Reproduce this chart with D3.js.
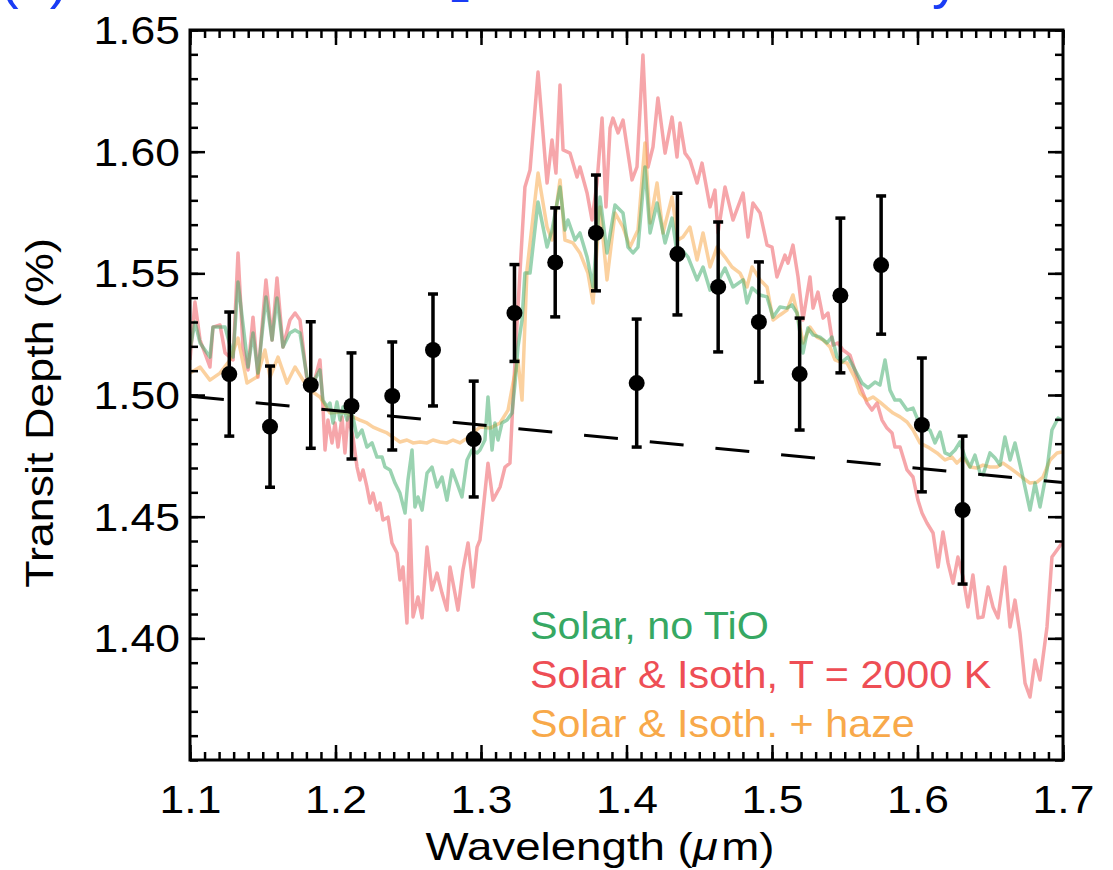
<!DOCTYPE html>
<html><head><meta charset="utf-8">
<script src="https://cdn.jsdelivr.net/npm/d3@7"></script>
<style>body{margin:0;background:#fff} svg{display:block}</style>
</head><body>
<svg id="chart" width="1113" height="870"></svg>
<script>
// ---------------- data ----------------
const xTickValues = [1.1, 1.2, 1.3, 1.4, 1.5, 1.6, 1.7];
const xTickLabels = ["1.1", "1.2", "1.3", "1.4", "1.5", "1.6", "1.7"];
const yTickValues = [1.40, 1.45, 1.50, 1.55, 1.60, 1.65];
const yTickLabels = ["1.40", "1.45", "1.50", "1.55", "1.60", "1.65"];

const pointWavelength = [1.127, 1.155, 1.183, 1.211, 1.239, 1.267, 1.295, 1.323, 1.351, 1.379, 1.407, 1.435, 1.463, 1.491, 1.519, 1.547, 1.575, 1.603, 1.631];
const pointDepth = [1.5086, 1.4870, 1.5041, 1.4955, 1.4996, 1.5185, 1.4819, 1.5337, 1.5545, 1.5666, 1.5049, 1.5579, 1.5444, 1.5300, 1.5086, 1.5409, 1.5534, 1.4877, 1.4527];
const pointError = [0.0255, 0.0249, 0.0260, 0.0218, 0.0222, 0.0230, 0.0238, 0.0199, 0.0224, 0.0238, 0.0263, 0.0250, 0.0267, 0.0247, 0.0230, 0.0318, 0.0284, 0.0275, 0.0304];

const flatLine = [[1.1, 1.4995], [1.7, 1.4640]];

const legendLabels = ["Solar, no TiO", "Solar & Isoth, T = 2000 K", "Solar & Isoth. + haze"];

const modelIsoth = [
[1.100,1.5144],[1.1034,1.5382],[1.1069,1.5226],[1.1137,1.5115],[1.1158,1.5279],[1.1206,1.5288],[1.1241,1.5173],[1.1296,1.5144],[1.1330,1.5584],[1.1364,1.5197],[1.1399,1.5103],[1.1433,1.5320],[1.1467,1.5074],[1.1522,1.5473],[1.1564,1.5226],[1.1598,1.5481],[1.1639,1.5197],[1.1687,1.5308],[1.1722,1.5337],[1.1756,1.5308],[1.1804,1.5061],[1.1845,1.5033],[1.1893,1.5144],[1.1914,1.4951],
[1.1928,1.4774],[1.1948,1.4897],[1.1976,1.4803],[1.1997,1.4885],[1.2017,1.4786],[1.2045,1.4910],[1.2065,1.4762],[1.2086,1.4910],[1.2120,1.4827],[1.2148,1.4704],[1.2168,1.4651],[1.2189,1.4692],[1.2216,1.4622],[1.2237,1.4556],[1.2258,1.4597],[1.2285,1.4527],[1.2306,1.4556],[1.2326,1.4486],[1.2361,1.4498],[1.2388,1.4392],[1.2423,1.4351],[1.2443,1.4240],[1.2464,1.4293],[1.2491,1.4063],[1.2512,1.4486],[1.2533,1.4088],[1.2567,1.4170],[1.2595,1.4084],[1.2629,1.4375],[1.2663,1.4199],[1.2698,1.4268],[1.2732,1.4186],[1.2766,1.4116],[1.2787,1.4293],[1.2821,1.4186],[1.2842,1.4116],[1.2876,1.4281],[1.2911,1.4392],[1.2945,1.4211],[1.2973,1.4375],[1.2993,1.4404],
[1.3048,1.4720],[1.3082,1.4568],[1.3131,1.4622],[1.3165,1.4704],[1.3199,1.4720],[1.3220,1.4979],[1.3247,1.5288],[1.3302,1.5855],[1.3337,1.5925],[1.3392,1.6327],[1.3454,1.5871],[1.3488,1.6048],[1.3515,1.5912],[1.3543,1.6274],[1.3564,1.6007],[1.3612,1.5994],[1.3660,1.5896],[1.3680,1.5937],[1.3729,1.5830],[1.3763,1.5719],[1.3797,1.5871],[1.3832,1.6138],[1.3859,1.5773],[1.3887,1.6097],[1.3907,1.6138],[1.3942,1.6077],[1.3976,1.6130],[1.4038,1.5884],[1.4072,1.5937],[1.4113,1.6397],[1.4148,1.5937],[1.4182,1.6019],[1.4216,1.6221],[1.4265,1.5994],[1.4313,1.6142],[1.4347,1.5978],[1.4368,1.6118],[1.4402,1.5994],[1.4436,1.5966],[1.4485,1.5871],[1.4519,1.5953],[1.4574,1.5773],[1.4608,1.5842],[1.4629,1.5666],[1.4677,1.5855],[1.4732,1.5719],[1.4801,1.5830],[1.4835,1.5649],[1.4869,1.5789],[1.4918,1.5748],
[1.4966,1.5616],[1.5000,1.5608],[1.5034,1.5485],[1.5089,1.5575],[1.5110,1.5542],[1.5144,1.5616],[1.5179,1.5485],[1.5213,1.5308],[1.5261,1.5485],[1.5282,1.5357],[1.5316,1.5423],[1.5351,1.5316],[1.5385,1.5337],[1.5419,1.5205],[1.5454,1.5214],[1.5488,1.5185],[1.5536,1.5164],[1.5591,1.5061],[1.5653,1.4967],[1.5687,1.4938],[1.5722,1.4967],[1.5756,1.4897],[1.5790,1.4864],[1.5825,1.4844],[1.5845,1.4786],[1.5880,1.4786],[1.5928,1.4692],[1.5969,1.4663],[1.6003,1.4568],[1.6031,1.4515],[1.6065,1.4474],[1.6107,1.4433],[1.6141,1.4293],[1.6175,1.4437],[1.6210,1.4310],[1.6244,1.4227],[1.6278,1.4334],[1.6313,1.4252],[1.6347,1.4129],[1.6381,1.4260],[1.6416,1.4084],[1.6450,1.4088],[1.6485,1.4211],[1.6519,1.4129],[1.6553,1.4084],[1.6601,1.4293],[1.6636,1.4047],[1.6670,1.4157],[1.6704,1.4022],[1.6739,1.3816],[1.6773,1.3759],[1.6808,1.3911],[1.6842,1.3829],[1.6890,1.4047],[1.6924,1.4334],[1.6959,1.4363],[1.6993,1.4392]
];

const modelNoTiO = [
[1.100,1.5185],[1.1034,1.5300],[1.1069,1.5214],[1.1137,1.5156],[1.1158,1.5279],[1.1241,1.5279],[1.1296,1.5156],[1.1330,1.5464],[1.1399,1.5115],[1.1433,1.5255],[1.1467,1.5090],[1.1522,1.5403],[1.1564,1.5226],[1.1598,1.5399],[1.1639,1.5197],[1.1687,1.5255],[1.1722,1.5267],[1.1756,1.5255],[1.1804,1.5074],[1.1845,1.5049],[1.1893,1.5103],[1.1914,1.4979],[1.1942,1.4951],[1.1962,1.4967],[1.1983,1.4885],[1.2010,1.4971],[1.2031,1.4897],[1.2052,1.4951],[1.2079,1.4897],[1.2100,1.4938],[1.2120,1.4910],[1.2148,1.4827],[1.2182,1.4856],[1.2216,1.4786],[1.2251,1.4803],[1.2285,1.4745],[1.2320,1.4745],[1.2340,1.4704],[1.2375,1.4692],[1.2409,1.4638],[1.2443,1.4597],[1.2478,1.4515],[1.2498,1.4651],[1.2526,1.4774],[1.2546,1.4540],[1.2567,1.4581],[1.2595,1.4527],[1.2629,1.4679],[1.2663,1.4704],[1.2698,1.4622],[1.2732,1.4663],[1.2766,1.4568],[1.2801,1.4692],[1.2835,1.4638],[1.2869,1.4581],[1.2904,1.4733],[1.2938,1.4774],[1.2973,1.4762],[1.2993,1.4774],
[1.3027,1.4815],[1.3048,1.4992],[1.3076,1.4774],[1.3096,1.4885],[1.3117,1.4815],[1.3144,1.4885],[1.3179,1.4897],[1.3213,1.4926],[1.3234,1.5049],[1.3254,1.5197],[1.3282,1.5308],[1.3302,1.5501],[1.3337,1.5501],[1.3392,1.5793],[1.3454,1.5608],[1.3488,1.5678],[1.3543,1.5855],[1.3577,1.5678],[1.3598,1.5719],[1.3646,1.5637],[1.3680,1.5666],[1.3729,1.5567],[1.3770,1.5444],[1.3818,1.5814],[1.3866,1.5584],[1.3921,1.5781],[1.3976,1.5748],[1.4010,1.5608],[1.4045,1.5584],[1.4079,1.5608],[1.4127,1.5937],[1.4162,1.5666],[1.4210,1.5789],[1.4265,1.5625],[1.4313,1.5727],[1.4347,1.5584],[1.4381,1.5596],[1.4423,1.5567],[1.4485,1.5473],[1.4526,1.5526],[1.4574,1.5431],[1.4622,1.5460],[1.4677,1.5522],[1.4732,1.5444],[1.4801,1.5473],[1.4828,1.5378],[1.4863,1.5440],[1.4918,1.5411],
[1.4966,1.5403],[1.5007,1.5320],[1.5055,1.5362],[1.5103,1.5357],[1.5137,1.5370],[1.5172,1.5337],[1.5213,1.5173],[1.5247,1.5275],[1.5282,1.5247],[1.5330,1.5238],[1.5378,1.5214],[1.5412,1.5238],[1.5447,1.5156],[1.5481,1.5136],[1.5522,1.5156],[1.5570,1.5103],[1.5619,1.5049],[1.5660,1.5029],[1.5708,1.5053],[1.5742,1.5041],[1.5777,1.5144],[1.5811,1.5020],[1.5845,1.4979],[1.5880,1.4979],[1.5928,1.4938],[1.5969,1.4946],[1.6003,1.4897],[1.6052,1.4864],[1.6086,1.4856],[1.6120,1.4803],[1.6155,1.4848],[1.6189,1.4762],[1.6223,1.4753],[1.6258,1.4774],[1.6292,1.4807],[1.6326,1.4745],[1.6361,1.4704],[1.6395,1.4753],[1.6430,1.4679],[1.6450,1.4671],[1.6498,1.4762],[1.6533,1.4741],[1.6567,1.4712],[1.6601,1.4827],[1.6636,1.4733],[1.6670,1.4803],[1.6718,1.4679],[1.6773,1.4527],[1.6808,1.4638],[1.6842,1.4540],[1.6890,1.4692],[1.6924,1.4856],[1.6966,1.4905],[1.6993,1.4897]
];

const modelHaze = [
[1.100,1.5090],[1.1069,1.5115],[1.1137,1.5061],[1.1206,1.5090],[1.1275,1.5144],[1.1330,1.5234],[1.1392,1.5049],[1.1460,1.5074],[1.1515,1.5185],[1.1550,1.5074],[1.1605,1.5156],[1.1667,1.5049],[1.1722,1.5115],[1.1777,1.5061],[1.1825,1.5020],[1.1893,1.4992],[1.1962,1.4926],[1.2031,1.4930],[1.2079,1.4926],[1.2120,1.4910],[1.2168,1.4897],[1.2216,1.4885],[1.2258,1.4868],[1.2306,1.4856],[1.2354,1.4844],[1.2395,1.4827],[1.2443,1.4807],[1.2491,1.4815],[1.2533,1.4803],[1.2581,1.4807],[1.2629,1.4803],[1.2670,1.4815],[1.2718,1.4807],[1.2766,1.4803],[1.2808,1.4815],[1.2856,1.4803],[1.2904,1.4823],[1.2945,1.4844],[1.2993,1.4868],
[1.3062,1.4864],[1.3131,1.4885],[1.3186,1.4938],[1.3220,1.5049],[1.3254,1.5144],[1.3282,1.4979],[1.3316,1.5514],[1.3392,1.5912],[1.3454,1.5690],[1.3488,1.5637],[1.3543,1.5884],[1.3577,1.5637],[1.3632,1.5625],[1.3680,1.5584],[1.3735,1.5501],[1.3770,1.5378],[1.3818,1.5773],[1.3866,1.5473],[1.3921,1.5748],[1.3976,1.5690],[1.4024,1.5608],[1.4079,1.5678],[1.4127,1.6036],[1.4162,1.5707],[1.4210,1.5871],[1.4251,1.5666],[1.4313,1.5814],[1.4354,1.5637],[1.4388,1.5649],[1.4436,1.5690],[1.4485,1.5555],[1.4526,1.5666],[1.4574,1.5526],[1.4622,1.5608],[1.4677,1.5567],[1.4725,1.5526],[1.4780,1.5501],[1.4828,1.5444],[1.4863,1.5526],[1.4918,1.5473],
[1.4966,1.5444],[1.5007,1.5308],[1.5055,1.5329],[1.5103,1.5349],[1.5144,1.5411],[1.5179,1.5320],[1.5213,1.5214],[1.5261,1.5279],[1.5309,1.5238],[1.5351,1.5226],[1.5399,1.5197],[1.5433,1.5144],[1.5467,1.5136],[1.5515,1.5132],[1.5570,1.5070],[1.5605,1.5008],[1.5653,1.4979],[1.5694,1.4992],[1.5742,1.4971],[1.5790,1.4946],[1.5832,1.4926],[1.5880,1.4910],[1.5928,1.4889],[1.5969,1.4856],[1.6017,1.4803],[1.6072,1.4786],[1.6134,1.4762],[1.6189,1.4733],[1.6237,1.4745],[1.6271,1.4720],[1.6313,1.4745],[1.6361,1.4704],[1.6409,1.4700],[1.6450,1.4712],[1.6498,1.4704],[1.6546,1.4704],[1.6588,1.4720],[1.6636,1.4700],[1.6684,1.4679],[1.6725,1.4659],[1.6773,1.4638],[1.6821,1.4642],[1.6863,1.4663],[1.6911,1.4733],[1.6959,1.4762],[1.6993,1.4766]
];

// ---------------- drawing ----------------
const W = 1113, H = 870;
const plot = {left: 190, right: 1063, top: 30, bottom: 760};
const svg = d3.select('#chart');
const FONT = "'Liberation Sans', Arial, Helvetica, sans-serif";

const x = d3.scaleLinear().domain([1.1, 1.7]).range([plot.left, plot.right]);
const y = d3.scaleLinear().domain([1.35, 1.65]).range([plot.bottom, plot.top]);

svg.append('defs').append('clipPath').attr('id', 'clip')
  .append('rect').attr('x', plot.left).attr('y', plot.top)
  .attr('width', plot.right - plot.left).attr('height', plot.bottom - plot.top);

// blue title (cut off at the top of the picture)
const blue = '#1a3cf5';
svg.append('text').attr('x', 0).attr('y', -3).attr('font-family', FONT)
  .attr('font-size', 56).attr('fill', blue).text('(b)');
svg.append('text').attr('x', 450).attr('y', 1.5).attr('font-family', FONT)
  .attr('font-size', 36).attr('fill', blue).text('2');
svg.append('text').attr('x', 932).attr('y', -3).attr('font-family', FONT)
  .attr('font-size', 56).attr('fill', blue).text('y');

// model spectra
const line = d3.line().x(d => x(d[0])).y(d => y(d[1]));
const models = [
  {data: modelIsoth, color: '#ee4e55'},
  {data: modelHaze, color: '#f8a440'},
  {data: modelNoTiO, color: '#36a863'}
];
const gModels = svg.append('g').attr('clip-path', 'url(#clip)');
models.forEach(m => {
  gModels.append('path').datum(m.data)
    .attr('d', line).attr('fill', 'none')
    .attr('stroke', m.color).attr('stroke-opacity', 0.5)
    .attr('stroke-width', 3.5).attr('stroke-linejoin', 'round');
});

// flat line
svg.append('path').datum(flatLine).attr('d', line)
  .attr('fill', 'none').attr('stroke', '#000').attr('stroke-width', 3)
  .attr('stroke-dasharray', '34,32');

// data points with error bars
const pts = pointWavelength.map((w, i) => ({w, v: pointDepth[i], e: pointError[i]}));
const gPts = svg.append('g');
gPts.selectAll('line.err').data(pts).join('line').attr('class', 'err')
  .attr('x1', d => x(d.w)).attr('x2', d => x(d.w))
  .attr('y1', d => y(d.v - d.e)).attr('y2', d => y(d.v + d.e))
  .attr('stroke', '#000').attr('stroke-width', 3.5);
['top', 'bot'].forEach(k => {
  gPts.selectAll('line.cap' + k).data(pts).join('line').attr('class', 'cap' + k)
    .attr('x1', d => x(d.w) - 5).attr('x2', d => x(d.w) + 5)
    .attr('y1', d => y(k === 'top' ? d.v + d.e : d.v - d.e))
    .attr('y2', d => y(k === 'top' ? d.v + d.e : d.v - d.e))
    .attr('stroke', '#000').attr('stroke-width', 3.5);
});
gPts.selectAll('circle').data(pts).join('circle')
  .attr('cx', d => x(d.w)).attr('cy', d => y(d.v)).attr('r', 8).attr('fill', '#000');

// axes ticks (inward on all four sides)
const xMinor = d3.range(110, 171).map(d => d / 100);
const yMinor = d3.range(135, 166).map(d => d / 100);
function tickAxis(axis, g) {
  g.call(axis);
  g.select('.domain').remove();
  g.selectAll('.tick line').attr('stroke', '#000').attr('stroke-width', 2.5);
}
const none = () => '';
tickAxis(d3.axisBottom(x).tickValues(xMinor).tickSize(-8).tickFormat(none),
  svg.append('g').attr('transform', `translate(0,${plot.bottom})`));
tickAxis(d3.axisTop(x).tickValues(xMinor).tickSize(-8).tickFormat(none),
  svg.append('g').attr('transform', `translate(0,${plot.top})`));
tickAxis(d3.axisLeft(y).tickValues(yMinor).tickSize(-8).tickFormat(none),
  svg.append('g').attr('transform', `translate(${plot.left},0)`));
tickAxis(d3.axisRight(y).tickValues(yMinor).tickSize(-8).tickFormat(none),
  svg.append('g').attr('transform', `translate(${plot.right},0)`));
tickAxis(d3.axisTop(x).tickValues(xTickValues).tickSize(-15).tickFormat(none),
  svg.append('g').attr('transform', `translate(0,${plot.top})`));
tickAxis(d3.axisRight(y).tickValues(yTickValues).tickSize(-15).tickFormat(none),
  svg.append('g').attr('transform', `translate(${plot.right},0)`));

const gxB = svg.append('g').attr('transform', `translate(0,${plot.bottom})`);
tickAxis(d3.axisBottom(x).tickValues(xTickValues).tickSize(-15)
  .tickFormat((d, i) => xTickLabels[i]), gxB);
gxB.selectAll('.tick text').attr('y', null).attr('dy', null)
  .attr('transform', 'translate(0,53) scale(1.17,1)')
  .attr('font-family', FONT).attr('font-size', 38).attr('fill', '#000')
  .attr('text-anchor', 'middle');

const gyL = svg.append('g').attr('transform', `translate(${plot.left},0)`);
tickAxis(d3.axisLeft(y).tickValues(yTickValues).tickSize(-15)
  .tickFormat((d, i) => yTickLabels[i]), gyL);
gyL.selectAll('.tick text').attr('x', null).attr('dy', null)
  .attr('transform', 'translate(-10,13.5) scale(1.17,1)')
  .attr('font-family', FONT).attr('font-size', 38).attr('fill', '#000')
  .attr('text-anchor', 'end');

// frame
svg.append('rect').attr('x', plot.left).attr('y', plot.top)
  .attr('width', plot.right - plot.left).attr('height', plot.bottom - plot.top)
  .attr('fill', 'none').attr('stroke', '#000').attr('stroke-width', 3);

// axis titles
const xt = svg.append('text').attr('transform', 'translate(600,860) scale(1.17,1)')
  .attr('text-anchor', 'middle').attr('font-family', FONT).attr('font-size', 39).attr('fill', '#000');
xt.append('tspan').text('Wavelength (');
xt.append('tspan').attr('font-style', 'italic').text('\u03bc');
xt.append('tspan').attr('dx', 3).text('m)');

svg.append('text').attr('transform', 'translate(53,413) rotate(-90) scale(1.15,1)')
  .attr('text-anchor', 'middle').attr('font-family', FONT).attr('font-size', 39)
  .attr('fill', '#000').text('Transit Depth (%)');

// legend
const legendColors = ['#36a863', '#ee4e55', '#f8a94a'];
const legendY = [639, 688, 737];
legendLabels.forEach((t, i) => {
  svg.append('text').attr('transform', `translate(530,${legendY[i]}) scale(1.06,1)`)
    .attr('font-family', FONT).attr('font-size', 39).attr('fill', legendColors[i]).text(t);
});
</script>
</body></html>
